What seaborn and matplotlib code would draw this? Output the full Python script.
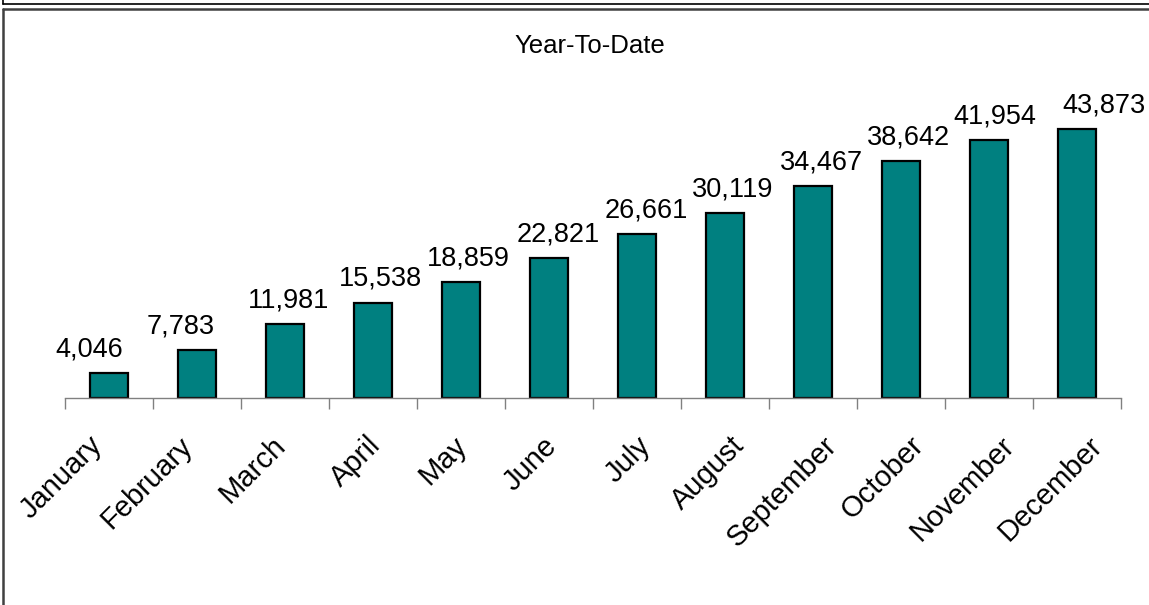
import matplotlib
matplotlib.use("Agg")
import matplotlib.pyplot as plt
import matplotlib.transforms as mtransforms
from matplotlib.lines import Line2D
import seaborn as sns
import pandas as pd

months = ["January", "February", "March", "April", "May", "June",
          "July", "August", "September", "October", "November", "December"]
ytd_totals = [4046, 7783, 11981, 15538, 18859, 22821,
              26661, 30119, 34467, 38642, 41954, 43873]
chart_title = "Year-To-Date"

df = pd.DataFrame({"month": months, "total": ytd_totals})

sns.set_theme(style="white")
plt.rcParams["font.family"] = ["Liberation Sans", "DejaVu Sans"]

W, H, DPI = 1149, 605, 100
fig = plt.figure(figsize=(W / DPI, H / DPI), dpi=DPI)
fig.patch.set_facecolor("white")

# plot area in pixel terms: x-axis at y=398, categories span x=65..1121
ymax = 50000
px_per_unit = 269.3 / 43873
ax_h = ymax * px_per_unit
ax = fig.add_axes([65 / W, (H - 398) / H, (1121 - 65) / W, ax_h / H])

sns.barplot(data=df, x="month", y="total", color="#008080", saturation=1,
            width=0.43, edgecolor="black", linewidth=1.6, ax=ax)

ax.set_xlim(-0.5, len(months) - 0.5)
ax.set_ylim(0, ymax)
for side in ("top", "right", "left"):
    ax.spines[side].set_visible(False)
ax.spines["bottom"].set_color("#808080")
ax.spines["bottom"].set_linewidth(1.0)
ax.set_yticks([])
ax.set_xlabel("")
ax.set_ylabel("")

# tick marks at category boundaries, labels at category centres
ax.set_xticks([i - 0.5 for i in range(len(months) + 1)], minor=True)
ax.tick_params(axis="x", which="minor", length=8, width=1.0, color="#808080",
               direction="out", bottom=True)
ax.tick_params(axis="x", which="major", length=0, pad=24)
ax.set_xticks(range(len(months)))
ax.set_xticklabels(months, rotation=45, ha="right", rotation_mode="anchor",
                   fontsize=21, color="black")

# horizontal nudges (pixels) for the rotated month labels
tick_dx = [-21, -19, -14, -7, -8, -6, -1, 5, 10, 9, 11, 11]
for lbl, dx in zip(ax.get_xticklabels(), tick_dx):
    shift = mtransforms.ScaledTranslation(dx / DPI, 0, fig.dpi_scale_trans)
    lbl.set_transform(lbl.get_transform() + shift)

# value labels above the bars, nudged horizontally (pixels)
label_dx = [-20, -16, 4, 7, 7, 9, 9, 8, 8, 7, 6, 27]
for i, v in enumerate(ytd_totals):
    ax.annotate(f"{v:,}", xy=(i, v), xytext=(label_dx[i] * 0.72, 12),
                textcoords="offset points", ha="center", va="baseline",
                fontsize=19.5, color="black", annotation_clip=False)

fig.text(590 / W, (H - 53) / H, chart_title, ha="center", va="baseline",
         fontsize=18.5, color="black")

# chart frame lines
fig.add_artist(Line2D([3 / W, 1], [(H - 3.5) / H] * 2, color="black", lw=1.2,
                      transform=fig.transFigure))
fig.add_artist(Line2D([3 / W, 3 / W], [(H - 3.5) / H, 1], color="black", lw=1.2,
                      transform=fig.transFigure))
fig.add_artist(Line2D([3 / W, 1], [(H - 9) / H] * 2, color="#404040", lw=1.8,
                      transform=fig.transFigure))
fig.add_artist(Line2D([3 / W, 3 / W], [0, (H - 9) / H], color="#404040", lw=1.8,
                      transform=fig.transFigure))

fig.savefig("out.png", dpi=DPI)
